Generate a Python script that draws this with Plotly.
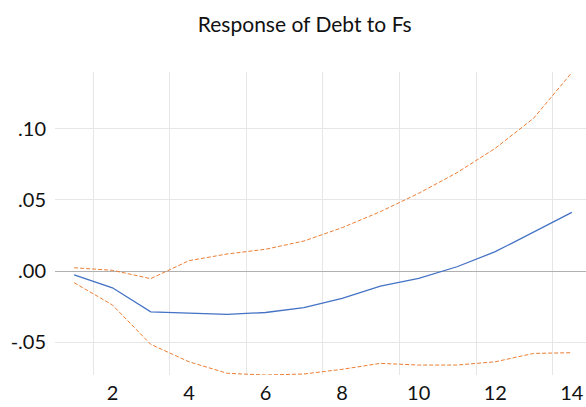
import plotly.graph_objects as go

periods = list(range(1, 15))
response = [-0.0028, -0.0118, -0.0287, -0.0298, -0.0305, -0.0292, -0.0258, -0.0192,
            -0.0106, -0.0052, 0.0030, 0.0136, 0.0277, 0.0413]
upper = [0.0023, 0.0005, -0.0054, 0.0073, 0.0120, 0.0153, 0.0211, 0.0305,
         0.0418, 0.0547, 0.0692, 0.0864, 0.1075, 0.1397]
lower = [-0.0082, -0.0239, -0.0516, -0.0639, -0.0720, -0.0732, -0.0725, -0.0692,
         -0.0650, -0.0662, -0.0662, -0.0639, -0.0580, -0.0575]

y_ticks = [-0.05, 0.0, 0.05, 0.10]
y_labels = ["-.05", ".00", ".05", ".10"]
x_ticks = [2, 4, 6, 8, 10, 12, 14]

FONT = "Lato, 'Open Sans', sans-serif"
BLUE = "#4472C4"
ORANGE = "#ED7D31"

fig = go.Figure()
fig.add_trace(go.Scatter(x=periods, y=upper, mode="lines",
                         line=dict(color=ORANGE, width=1, dash="4px,2px"), showlegend=False))
fig.add_trace(go.Scatter(x=periods, y=lower, mode="lines",
                         line=dict(color=ORANGE, width=1, dash="4px,2px"), showlegend=False))
fig.add_trace(go.Scatter(x=periods, y=response, mode="lines",
                         line=dict(color=BLUE, width=1.3), showlegend=False))

fig.update_layout(
    width=586, height=407,
    title=dict(text="Response of Debt to Fs", x=0.52, xanchor="center", y=0.94, yanchor="middle",
               font=dict(family=FONT, size=21, color="#111")),
    paper_bgcolor="white", plot_bgcolor="white",
    margin=dict(l=55, r=0, t=72, b=32),
    font=dict(family=FONT, size=20, color="#111"),
    xaxis=dict(range=[0.5, 14.37], tickvals=x_ticks, showgrid=False, zeroline=False,
               showline=False, ticks="", ticklabelstandoff=4,
               minor=dict(tick0=1.5, dtick=2, showgrid=True, gridcolor="#e6e6e6", gridwidth=1)),
    yaxis=dict(range=[-0.0732, 0.1401], tickvals=y_ticks, ticktext=y_labels,
               showgrid=True, gridcolor="#e6e6e6", gridwidth=1,
               zeroline=True, zerolinecolor="#b0b0b0", zerolinewidth=1,
               showline=False, ticks="", ticklabelstandoff=8),
)

# drop the browser's default page margin so the figure sits at the window corner
fig.write_html("out.html", config={"displayModeBar": False},
               post_script="document.body.style.margin='0px';")
